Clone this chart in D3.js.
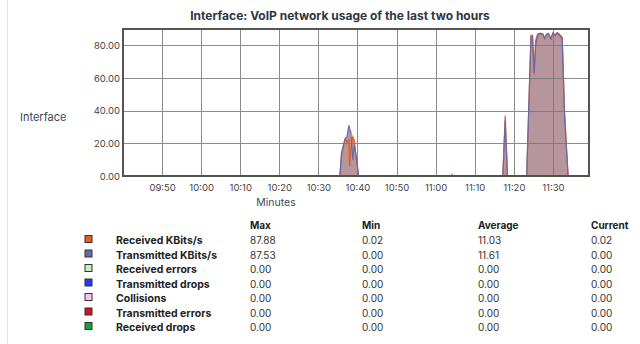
<!DOCTYPE html>
<html>
<head>
<meta charset="utf-8">
<script src="https://cdn.jsdelivr.net/npm/d3@7"></script>
<style>
  body { margin: 0; background: #fff; }
  svg { display: block; font-family: Inter, "Noto Sans", sans-serif; }
</style>
</head>
<body>
<svg id="canvas" width="640" height="344"></svg>
<script>
"use strict"

// minutes after 09:40, received / transmitted KBits/s
const sampleMinutes = [0, 55.5, 55.9, 56.5, 56.9, 57.3, 57.8, 58.0, 58.3, 58.8, 59.2, 59.7, 60.3,
  84.0, 84.2, 84.4,
  97.2, 97.8, 98.4,
  103.3, 104.4, 104.8, 105.2, 105.6, 106.1, 106.8, 107.4, 107.9, 108.4, 108.9, 109.5, 110.0, 110.6, 111.1, 111.6, 112.4, 113.0, 113.9,
  119.25]
const receivedKbits = [0.02, 0, 12, 19, 23, 21, 22, 6, 17, 24, 22, 10, 0,
  0, 1, 0,
  0, 37, 0,
  0, 86, 85, 62, 83, 87, 87.5, 87, 84.5, 87, 87.3, 84, 87.5, 86.5, 87.88, 87, 85, 40, 0,
  0.02]
const transmittedKbits = [0, 0, 14, 20, 23, 24, 31, 29, 27, 10, 19, 12, 0,
  0, 0, 0,
  0, 34, 0,
  0, 85, 86, 63, 80, 86, 87, 87, 84, 86.5, 87, 84, 87.5, 86, 87.53, 86.5, 84, 35, 0,
  0]

const xTickLabels = ["09:50", "10:00", "10:10", "10:20", "10:30", "10:40", "10:50", "11:00", "11:10", "11:20", "11:30"]
const yTicks = [0, 20, 40, 60, 80]

const seriesNames = ["Received KBits/s", "Transmitted KBits/s", "Received errors", "Transmitted drops",
  "Collisions", "Transmitted errors", "Received drops"]
const seriesColors = ["#e0601f", "#6b6aa8", "#c8efc0", "#2638f0", "#f9c6f4", "#d8101a", "#12a236"]
const statMax = ["87.88", "87.53", "0.00", "0.00", "0.00", "0.00", "0.00"]
const statMin = ["0.02", "0.00", "0.00", "0.00", "0.00", "0.00", "0.00"]
const statAvg = ["11.03", "11.61", "0.00", "0.00", "0.00", "0.00", "0.00"]
const statCur = ["0.02", "0.00", "0.00", "0.00", "0.00", "0.00", "0.00"]

const start = new Date(2024, 0, 1, 9, 40)
const parseTime = d3.timeParse("%H:%M")
const toDate = m => new Date(start.getTime() + m * 60000)
const tickDates = xTickLabels.map(t => {
  const p = parseTime(t)
  return new Date(2024, 0, 1, p.getHours(), p.getMinutes())
})

const plot = {left: 123, right: 589, top: 29, bottom: 176}

const x = d3.scaleTime()
  .domain([toDate(0), toDate(119.25)])
  .range([plot.left, plot.right])
const y = d3.scaleLinear()
  .domain([0, 90])
  .range([plot.bottom, plot.top])

const points = sampleMinutes.map((m, i) => ({t: toDate(m), rx: receivedKbits[i], tx: transmittedKbits[i]}))

const svg = d3.select("#canvas")

// page edge
svg.append("line")
  .attr("x1", 7.5).attr("x2", 7.5).attr("y1", 0).attr("y2", 344)
  .attr("stroke", "#e2e2e2")

svg.append("text")
  .attr("x", 340).attr("y", 20)
  .attr("text-anchor", "middle")
  .attr("font-size", 12).attr("font-weight", "bold")
  .attr("fill", "#2b3744")
  .text("Interface: VoIP network usage of the last two hours")

svg.append("text")
  .attr("x", 20).attr("y", 121)
  .attr("font-size", 11).attr("fill", "#3a4753")
  .text("Interface")

// filled areas, drawn as one translucent group
const areaGroup = svg.append("g").attr("opacity", 0.58)
const areaRx = d3.area().x(d => x(d.t)).y0(y(0)).y1(d => y(d.rx))
const areaTx = d3.area().x(d => x(d.t)).y0(y(0)).y1(d => y(d.tx))
areaGroup.append("path").datum(points).attr("d", areaTx).attr("fill", "#844a56")
areaGroup.append("path").datum(points).attr("d", areaRx).attr("fill", "#844a56")

// grid
const grid = svg.append("g").attr("stroke", "#777").attr("stroke-width", 1).attr("opacity", 0.85)
grid.selectAll("line.v").data(tickDates).enter().append("line")
  .attr("x1", d => Math.round(x(d)) + 0.5).attr("x2", d => Math.round(x(d)) + 0.5)
  .attr("y1", plot.top).attr("y2", plot.bottom)
grid.selectAll("line.h").data(yTicks).enter().append("line")
  .attr("x1", plot.left).attr("x2", plot.right)
  .attr("y1", d => Math.round(y(d)) + 0.5).attr("y2", d => Math.round(y(d)) + 0.5)

// series lines
const lineRx = d3.line().x(d => x(d.t)).y(d => y(d.rx))
const lineTx = d3.line().x(d => x(d.t)).y(d => y(d.tx))
svg.append("path").datum(points).attr("d", lineRx)
  .attr("fill", "none").attr("stroke", seriesColors[0]).attr("stroke-width", 1.2)
svg.append("path").datum(points).attr("d", lineTx)
  .attr("fill", "none").attr("stroke", seriesColors[1]).attr("stroke-width", 1.2)

// frame
svg.append("rect")
  .attr("x", plot.left).attr("y", plot.top)
  .attr("width", plot.right - plot.left).attr("height", plot.bottom - plot.top)
  .attr("fill", "none").attr("stroke", "#555").attr("stroke-width", 2)

// zero-valued series sit on the baseline
svg.selectAll("line.zero").data(seriesColors.slice(2)).enter().append("line")
  .attr("x1", plot.left).attr("x2", plot.right)
  .attr("y1", y(0)).attr("y2", y(0))
  .attr("stroke", "#4b5646").attr("stroke-width", 2)

// axes
const yAxis = svg.append("g")
  .attr("transform", `translate(${plot.left - 2},0)`)
  .call(d3.axisLeft(y).tickValues(yTicks).tickFormat(d3.format(".2f")).tickSize(0).tickPadding(1))
yAxis.select(".domain").remove()
yAxis.selectAll("text").attr("font-size", 9.5).attr("fill", "#444").attr("font-family", "Inter, sans-serif")

const xAxis = svg.append("g")
  .attr("transform", `translate(0,${plot.bottom + 2})`)
  .call(d3.axisBottom(x).tickValues(tickDates).tickFormat(d3.timeFormat("%H:%M")).tickSize(0).tickPadding(6))
xAxis.select(".domain").remove()
xAxis.selectAll("text").attr("font-size", 9.5).attr("fill", "#444").attr("font-family", "Inter, sans-serif")

svg.append("text")
  .attr("x", 276).attr("y", 206)
  .attr("text-anchor", "middle")
  .attr("font-size", 10.5).attr("fill", "#3a4a5a")
  .text("Minutes")

// legend table
const cols = {swatch: 85, label: 116, max: 250, min: 362, avg: 478, cur: 591}
const rowY = i => 244 + i * 14.5

const header = svg.append("g").attr("font-size", 10).attr("font-weight", "bold").attr("fill", "#222")
;[["Max", cols.max], ["Min", cols.min], ["Average", cols.avg], ["Current", cols.cur]].forEach(([t, cx]) => {
  header.append("text").attr("x", cx).attr("y", 229).text(t)
})

const rows = svg.selectAll("g.row").data(seriesNames).enter().append("g")
  .attr("transform", (d, i) => `translate(0,${rowY(i)})`)
rows.append("rect")
  .attr("x", cols.swatch).attr("y", -8.5).attr("width", 7).attr("height", 7)
  .attr("fill", (d, i) => seriesColors[i])
  .attr("stroke", "#333").attr("stroke-width", 1)
rows.append("text")
  .attr("x", cols.label).attr("font-size", 10.5).attr("font-weight", "bold").attr("fill", "#222")
  .text(d => d)
const statCols = [[statMax, cols.max], [statMin, cols.min], [statAvg, cols.avg], [statCur, cols.cur]]
statCols.forEach(([vals, cx]) => {
  rows.append("text")
    .attr("x", cx).attr("font-size", 10).attr("fill", "#333")
    .text((d, i) => vals[i])
})
</script>
</body>
</html>
